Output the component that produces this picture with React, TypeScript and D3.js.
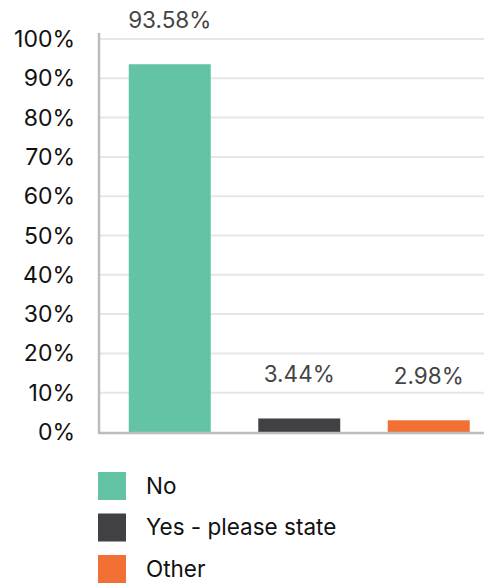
import React from "react";
import * as d3 from "d3";

const categories = ["No", "Yes - please state", "Other"];
const values = [93.58, 3.44, 2.98];
const colors = ["#62c4a4", "#414143", "#f37034"];
const yTicks = [0, 10, 20, 30, 40, 50, 60, 70, 80, 90, 100];

export default function App() {
  const W = 484, H = 583;
  const x = d3.scaleBand<string>().domain(categories).range([105, 493.5]).paddingInner(0.367).paddingOuter(0.1835);
  const y = d3.scaleLinear().domain([0, 100]).range([432, 39]);
  const font = "Inter, 'Noto Sans', sans-serif";
  return (
    <svg width={W} height={H} style={{ position: "absolute", left: 0, top: 0 }} fontFamily={font}>
      {yTicks.map((t) => (
        <g key={t}>
          {t > 0 && <line x1={99} x2={W} y1={y(t)} y2={y(t)} stroke="#e6e6e8" strokeWidth={2} />}
          <text x={75} y={y(t)} dy="0.35em" textAnchor="end" fontSize={23} fill="#111">{t}%</text>
        </g>
      ))}
      {categories.map((c, i) => (
        <g key={c}>
          <rect x={x(c)} y={y(values[i])} width={x.bandwidth()} height={y(0) - y(values[i])} fill={colors[i]} />
          <text x={(x(c) as number) + x.bandwidth() / 2} y={Math.min(y(values[i]) - 44, y(0) - 55)} dy="0.35em" textAnchor="middle" fontSize={22.5} fill="#444">{values[i].toFixed(2)}%</text>
        </g>
      ))}
      <line x1={99} x2={99} y1={33} y2={433} stroke="#bcbcc0" strokeWidth={2.5} />
      <line x1={98} x2={W} y1={433} y2={433} stroke="#bcbcc0" strokeWidth={2.5} />
      {categories.map((c, i) => (
        <g key={"l" + c} transform={`translate(98, ${472 + i * 41.5})`}>
          <rect width={28} height={28} fill={colors[i]} />
          <text x={48} y={14} dy="0.35em" fontSize={22.5} fill="#111">{c}</text>
        </g>
      ))}
    </svg>
  );
}
